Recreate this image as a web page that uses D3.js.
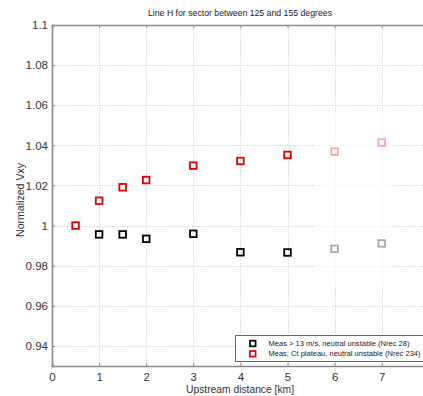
<!DOCTYPE html>
<html><head><meta charset="utf-8">
<script src="https://cdn.jsdelivr.net/npm/d3@7"></script>
<style>body{margin:0;background:#fff;overflow:hidden}svg{display:block}text{font-family:"Liberation Sans",Arial,sans-serif}</style>
</head><body>
<script>
const distances = [0.5, 1, 1.5, 2, 3, 4, 5, 6, 7];
const ctPlateau = [1.0000, 1.0124, 1.0191, 1.0227, 1.0299, 1.0322, 1.0352, 1.0369, 1.0414];
const distancesHigh = [1, 1.5, 2, 3, 4, 5, 6, 7];
const highWind = [0.9956, 0.9956, 0.9934, 0.9959, 0.9867, 0.9866, 0.9884, 0.9911];
const xTicks = [0, 1, 2, 3, 4, 5, 6, 7];
const yTicks = [0.94, 0.96, 0.98, 1.00, 1.02, 1.04, 1.06, 1.08, 1.10];
const legendLabels = ["Meas > 13 m/s, neutral unstable (Nrec 28)", "Meas, Ct plateau, neutral unstable (Nrec 234)"];
const seriesColors = ["#000000", "#e00000"];

const W = 423, H = 396;
const svg = d3.select("body").append("svg").attr("width", W).attr("height", H);
const x = d3.scaleLinear().domain([0, 8]).range([52, 428.8]);
const y = d3.scaleLinear().domain([0.93, 1.1]).range([366, 25]);
const [x0, x1] = x.range(), [y0, y1] = y.range();

// grid
const grid = svg.append("g").attr("stroke", "#cccccc").attr("stroke-width", 1).attr("stroke-dasharray", "1,1.5");
grid.selectAll("line.v").data(xTicks.slice(1)).join("line")
  .attr("x1", d => Math.round(x(d)) + 0.5).attr("x2", d => Math.round(x(d)) + 0.5).attr("y1", y1).attr("y2", y0);
grid.selectAll("line.h").data(yTicks).join("line")
  .attr("y1", d => Math.round(y(d)) + 0.5).attr("y2", d => Math.round(y(d)) + 0.5).attr("x1", x0).attr("x2", x1);

// axes
const axisColor = "#8a8a8a";
const gx = svg.append("g").attr("transform", `translate(0,${y0})`)
  .call(d3.axisBottom(x).tickValues(xTicks).tickSize(-3).tickPadding(7).tickFormat(d3.format("d")));
const gxTop = svg.append("g").attr("transform", `translate(0,${y1})`)
  .call(d3.axisTop(x).tickValues(xTicks).tickSize(-3).tickFormat(""));
const gy = svg.append("g").attr("transform", `translate(${x0},0)`)
  .call(d3.axisLeft(y).tickValues(yTicks).tickSize(-3).tickPadding(4).tickFormat(d => d3.format("~g")(d)));
[gx, gxTop, gy].forEach(g => {
  g.selectAll(".domain").attr("stroke", axisColor).attr("stroke-width", 1.6);
  g.selectAll(".tick line").attr("stroke", axisColor);
  g.selectAll("text").attr("fill", "#333").attr("font-size", 11.5).attr("font-family", "'Liberation Sans',Arial,sans-serif");
});

// markers
function squares(xs, ys, color) {
  svg.append("g").selectAll("rect").data(xs.map((d, i) => [d, ys[i]])).join("rect")
    .attr("x", d => x(d[0]) - 3.3).attr("y", d => y(d[1]) - 3.3)
    .attr("width", 6.6).attr("height", 6.6)
    .attr("fill", "none").attr("stroke", color).attr("stroke-width", 1.8);
}
squares(distancesHigh, highWind, seriesColors[0]);
squares(distances, ctPlateau, seriesColors[1]);

// fading overlay on the last two distances
svg.append("rect").attr("x", x(5.55)).attr("y", y(1.057)).attr("width", x(7.25) - x(5.55))
  .attr("height", y(0.97) - y(1.057)).attr("fill", "#fff").attr("opacity", 0.66);

// title and labels
svg.append("text").attr("x", 240).attr("y", 16).attr("text-anchor", "middle")
  .attr("font-size", 9.5).attr("fill", "#222").attr("textLength", 184).attr("lengthAdjust", "spacingAndGlyphs")
  .text("Line H for sector between 125 and 155 degrees");
svg.append("text").attr("x", 240).attr("y", 393).attr("text-anchor", "middle")
  .attr("font-size", 11).attr("fill", "#333").attr("textLength", 108).attr("lengthAdjust", "spacingAndGlyphs")
  .text("Upstream distance [km]");
svg.append("text").attr("transform", "translate(24,200) rotate(-90)").attr("text-anchor", "middle")
  .attr("font-size", 11).attr("fill", "#333").attr("textLength", 74).attr("lengthAdjust", "spacingAndGlyphs")
  .text("Normalized Vxy");

// legend
const lg = svg.append("g");
lg.append("rect").attr("x", 235.5).attr("y", 335.5).attr("width", 200).attr("height", 26)
  .attr("fill", "#fff").attr("stroke", "#666").attr("stroke-width", 1);
legendLabels.forEach((t, i) => {
  const cy = 343.5 + i * 10.3;
  lg.append("rect").attr("x", 250).attr("y", cy - 2.8).attr("width", 5.6).attr("height", 5.6)
    .attr("fill", "none").attr("stroke", seriesColors[i]).attr("stroke-width", 1.7);
  lg.append("text").attr("x", 268.5).attr("y", cy + 2.6).attr("font-size", 7.5).attr("fill", "#222")
    .attr("textLength", i === 0 ? 141 : 152).attr("lengthAdjust", "spacingAndGlyphs").text(t);
});
</script>
</body></html>
